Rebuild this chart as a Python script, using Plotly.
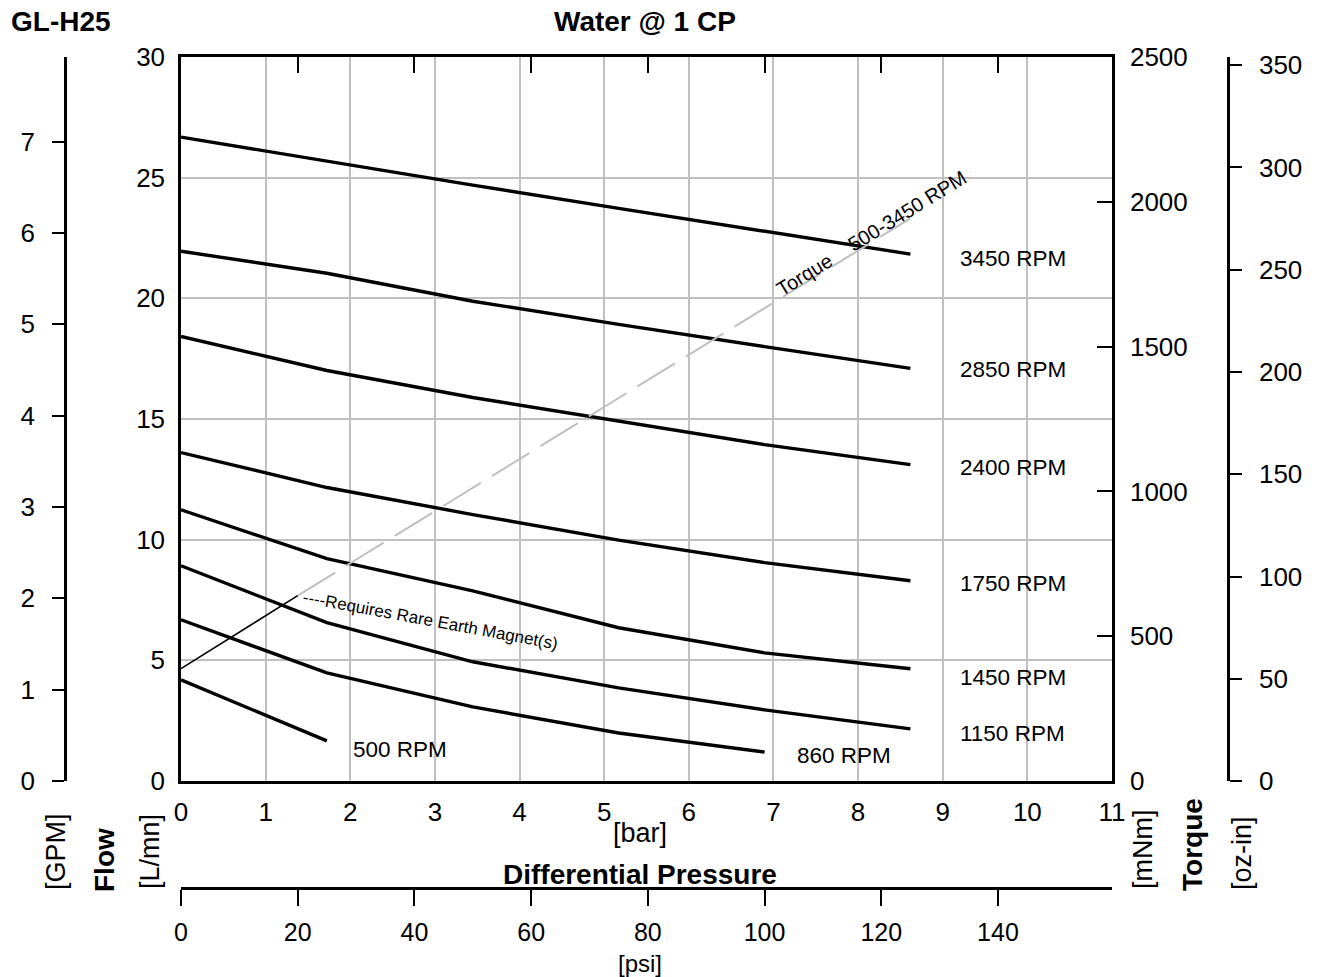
import plotly.graph_objects as go

# ---- data -------------------------------------------------------------
PSI_PER_BAR = 14.5038
LPM_PER_GPM = 3.78541
MNM_PER_OZIN = 7.0615518

pressure_psi = [0, 25, 50, 75, 100, 125]

flow_3450 = [26.68, 25.68, 24.69, 23.73, 22.78, 21.83]
flow_2850 = [21.95, 21.04, 19.88, 18.92, 18.00, 17.10]
flow_2400 = [18.42, 17.01, 15.89, 14.90, 13.94, 13.11]
flow_1750 = [13.61, 12.16, 11.04, 9.98, 9.05, 8.30]
flow_1450 = [11.24, 9.21, 7.88, 6.35, 5.31, 4.65]
flow_1150 = [8.92, 6.56, 4.94, 3.86, 2.95, 2.16]
flow_860 = [6.68, 4.48, 3.07, 1.99, 1.20]
flow_500 = [4.19, 1.66]

speed_labels = ["3450 RPM", "2850 RPM", "2400 RPM", "1750 RPM",
                "1450 RPM", "1150 RPM", "860 RPM", "500 RPM"]

# torque (mNm): standard magnet range, then rare-earth magnet range
torque_std_psi = [0, 20]
torque_std_mnm = [388, 640]
torque_re_psi = [20, 125]
torque_re_mnm = [640, 1943]

bar_ticks = list(range(0, 12))
psi_ticks = list(range(0, 160, 20))

# ---- styling ------------------------------------------------------------
W, H = 1320, 977
FONT = "Liberation Sans, Arial, sans-serif"
GRID = "#c0c0c0"
TICK = 26
UNIT = 27
BOLD = 28
LABEL = 22.5


def px(x):
    return x / W


def py(y):
    return 1 - y / H


def bar(p):
    return [v / PSI_PER_BAR for v in p]


fig = go.Figure()

curves = [flow_3450, flow_2850, flow_2400, flow_1750,
          flow_1450, flow_1150, flow_860, flow_500]
for name, flow in zip(speed_labels, curves):
    fig.add_trace(go.Scatter(
        x=bar(pressure_psi[:len(flow)]), y=flow, mode="lines", name=name,
        line=dict(color="black", width=3.4), showlegend=False,
        hoverinfo="skip"))

# torque line on the mNm axis
fig.add_trace(go.Scatter(
    x=bar(torque_re_psi), y=torque_re_mnm, yaxis="y2", mode="lines",
    line=dict(color=GRID, width=2, dash="44px,13px"),
    showlegend=False, hoverinfo="skip"))
fig.add_trace(go.Scatter(
    x=bar(torque_std_psi), y=torque_std_mnm, yaxis="y2", mode="lines",
    line=dict(color="black", width=1.6), showlegend=False, hoverinfo="skip"))

# placeholder traces so the secondary scales are drawn
for xa, ya in [("x", "y3"), ("x", "y4"), ("x2", "y"), ("x3", "y")]:
    fig.add_trace(go.Scatter(x=[None], y=[None], xaxis=xa, yaxis=ya,
                             showlegend=False, hoverinfo="skip"))

x_dom = [px(181), px(1112)]
y_dom = [py(781), py(57)]
tickfont = dict(family=FONT, size=TICK, color="black")
common = dict(showline=True, linecolor="black", linewidth=2.5,
              automargin=False, zeroline=False, tickfont=tickfont)
ticked = dict(tickwidth=2, tickcolor="black", showgrid=False)

fig.update_layout(
    width=W, height=H,
    margin=dict(l=0, r=0, t=0, b=0),
    paper_bgcolor="white", plot_bgcolor="white",
    font=dict(family=FONT, size=TICK, color="black"),
    showlegend=False,
    xaxis=dict(domain=x_dom, range=[0, 11], tickvals=bar_ticks,
               showgrid=True, gridcolor=GRID, gridwidth=2,
               mirror=True, ticks="", ticklabelstandoff=6, **common),
    yaxis=dict(domain=y_dom, range=[0, 30], dtick=5,
               showgrid=True, gridcolor=GRID, gridwidth=2,
               mirror=True, ticks="", ticklabelstandoff=8, **common),
    yaxis2=dict(overlaying="y", side="right", anchor="x",
                range=[0, 2500], dtick=500, ticks="inside", ticklen=15,
                ticklabelstandoff=10, **ticked, **common),
    yaxis3=dict(overlaying="y", side="left", anchor="free",
                position=px(65), range=[0, 30 / LPM_PER_GPM], dtick=1,
                ticks="outside", ticklen=12, ticklabelstandoff=12,
                **ticked, **common),
    yaxis4=dict(overlaying="y", side="right", anchor="free",
                position=px(1228), range=[0, 2500 / MNM_PER_OZIN], dtick=50,
                ticks="outside", ticklen=12, ticklabelstandoff=12,
                **ticked, **common),
    xaxis2=dict(overlaying="x", side="bottom", anchor="free",
                position=py(888), range=[0, 11 * PSI_PER_BAR],
                tickvals=psi_ticks, ticks="outside", ticklen=16,
                ticklabelstandoff=5, **ticked,
                **{**common, "tickfont": dict(family=FONT, size=25,
                                              color="black")}),
    xaxis3=dict(overlaying="x", side="top", anchor="y",
                range=[0, 11 * PSI_PER_BAR], tickvals=psi_ticks,
                showgrid=False, zeroline=False, showticklabels=False,
                automargin=False, ticks="inside", ticklen=16, tickwidth=2,
                tickcolor="black"),
)


def note(text, x, y, size=UNIT, bold=False, angle=0, xanchor="center"):
    fig.add_annotation(
        text=f"<b>{text}</b>" if bold else text,
        x=px(x), y=py(y), xref="paper", yref="paper",
        xanchor=xanchor, yanchor="middle", showarrow=False,
        textangle=angle, font=dict(family=FONT, size=size, color="black"))


# titles
note("GL-H25", 61, 22, size=BOLD, bold=True)
note("Water @ 1 CP", 645, 22, size=BOLD, bold=True)

# axis titles
note("[bar]", 640, 833)
note("Differential Pressure", 640, 874, size=BOLD, bold=True)
note("[psi]", 640, 963, size=24)
note("[GPM]", 56, 852, angle=-90)
note("Flow", 104, 860, size=BOLD, bold=True, angle=-90)
note("[L/mn]", 150, 852, angle=-90)
note("[mNm]", 1143, 850, angle=-90)
note("Torque", 1192, 845, size=BOLD, bold=True, angle=-90)
note("[oz-in]", 1242, 853, angle=-90)

# speed labels
label_pos = [(958, 259), (958, 369), (958, 467), (958, 583),
             (958, 677), (958, 733), (795, 755), (351, 749)]
for text, (lx, ly) in zip(speed_labels, label_pos):
    note(text, lx, ly, size=LABEL, xanchor="left")

# torque line captions
note("Torque", 804, 275, size=20, angle=-31.6)
note("500-3450 RPM", 907, 211, size=20, angle=-31.6)
note("----Requires Rare Earth Magnet(s)", 430, 620, size=17, angle=10.5)

fig.write_html(
    "out.html",
    config={"displayModeBar": False},
    post_script="document.body.style.margin='0px';"
                "document.body.style.overflow='hidden';",
)
